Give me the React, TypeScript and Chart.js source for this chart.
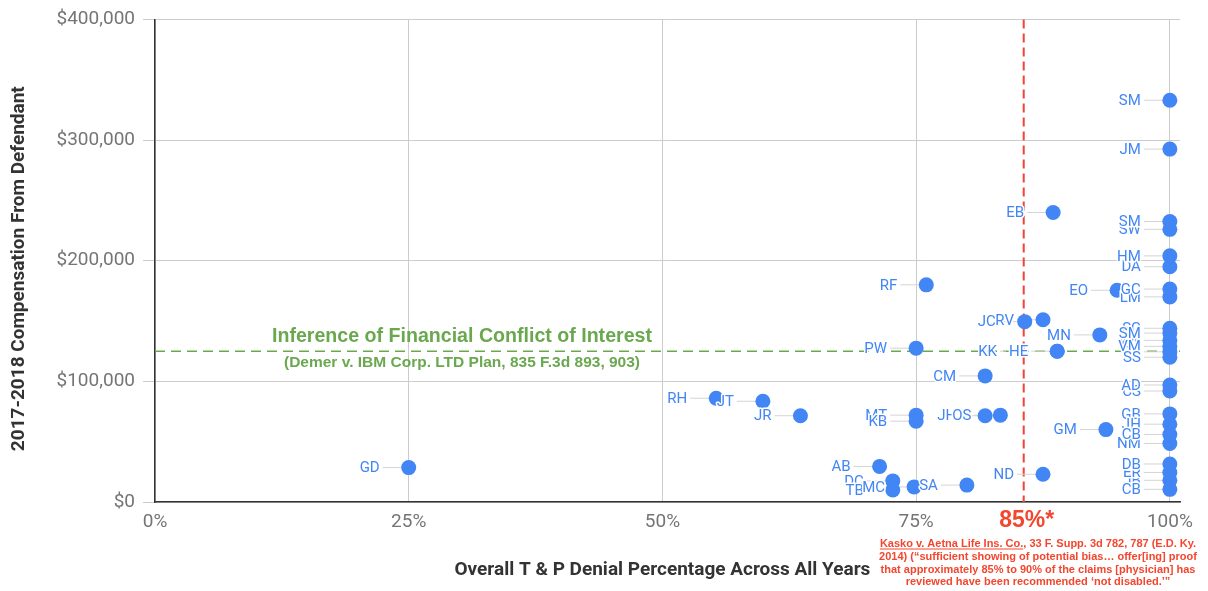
import React, { useEffect, useRef } from "react";
import { Chart, registerables } from "chart.js";

Chart.register(...registerables);

// ---- data ----
const LABELS = [
  "GD", "RH", "JT", "JR", "AB", "DC", "TB", "MC", "SA", "MT", "KB", "PW", "RF", "CM", "JH", "OS",
  "JC", "RV", "HE", "KK", "EB", "ND", "MN", "GM", "EO",
  "SM", "JM", "SW", "SM", "DA", "HM", "LM", "GC",
  "SC", "VW", "SB", "SM", "VM", "SS",
  "CS", "AD", "GB", "NM", "JH", "CB", "JB", "CB", "ER", "DB",
];
const DENIAL_PCT = [
  25, 55.3, 59.9, 63.6, 71.4, 72.7, 72.7, 74.8, 80.0, 75, 75, 75, 76, 81.8, 81.8, 83.3,
  85.7, 87.5, 88.9, 88.9, 88.5, 87.5, 93.1, 93.7, 94.8,
  100, 100, 100, 100, 100, 100, 100, 100,
  100, 100, 100, 100, 100, 100,
  100, 100, 100, 100, 100, 100, 100, 100, 100, 100,
];
const COMPENSATION = [
  28500, 86000, 83500, 71500, 29500, 17500, 10000, 12500, 14000, 72000, 67000, 127500, 180000, 104500, 71500, 72000,
  149500, 151000, 125000, 125000, 240000, 23000, 138500, 60000, 175500,
  333000, 292500, 226000, 232500, 195000, 204000, 170000, 176500,
  144000, 134000, 124500, 140000, 129000, 120000,
  92000, 97000, 73000, 48500, 64500, 56000, 18000, 10500, 24500, 31500,
];
const X_TICKS = [0, 25, 50, 75, 100];
const Y_MAX = 400000;
const Y_STEP = 100000;
const CONFLICT_THRESHOLD = 125000;
const DENIAL_CUTOFF_LINE = 85.6;
const CUTOFF_LABEL = "85%*";
const CONFLICT_TITLE = "Inference of Financial Conflict of Interest";
const CONFLICT_CITE = "(Demer v. IBM Corp. LTD Plan, 835 F.3d 893, 903)";
const FOOTNOTE_CASE = "Kasko v. Aetna Life Ins. Co.";
const FOOTNOTE_LINES = [
  FOOTNOTE_CASE + ", 33 F. Supp. 3d 782, 787 (E.D. Ky.",
  "2014) (\u201csufficient showing of potential bias\u2026 offer[ing] proof",
  "that approximately 85% to 90% of the claims [physician] has",
  "reviewed have been recommended \u2018not disabled.\u2019\u201d",
];
const X_TITLE = "Overall T & P Denial Percentage Across All Years";
const Y_TITLE = "2017-2018 Compensation From Defendant";

// ---- styles ----
const BLUE = "#4285f4";
const GREEN = "#6aa84f";
const RED = "#f44336";
const RED_TEXT = "#f4462f";
const GRID = "#cccccc";
const AXIS = "#333333";
const TICK_COLOR = "#757575";
const LABEL_FONT = "15px Roboto";

function layoutLabels(chart: any) {
  const ctx = chart.ctx;
  const meta = chart.getDatasetMeta(0);
  ctx.save();
  ctx.font = LABEL_FONT;
  const placed: any[] = [];
  meta.data.forEach((el: any, i: number) => {
    const text = LABELS[i];
    const w = ctx.measureText(text).width;
    let right = el.x - 29;
    let stop = el.x;
    for (const p of placed) {
      if (Math.abs(p.px - el.x) < 2 && Math.abs(p.py - el.y) < 2) {
        right = Math.min(right, p.left - 12);
        stop = Math.min(stop, p.left - 3);
      }
    }
    placed.push({ text, right, left: right - w, px: el.x, py: el.y, stop });
  });
  ctx.restore();
  return placed;
}

const overlayPlugin = {
  id: "overlay",
  beforeDatasetsDraw(chart: any) {
    const { ctx, chartArea: a, scales } = chart;
    const x = scales.x;
    const y = scales.y;
    ctx.save();
    // green threshold line
    const gy = y.getPixelForValue(CONFLICT_THRESHOLD);
    ctx.strokeStyle = GREEN;
    ctx.lineWidth = 1.5;
    ctx.setLineDash([10, 6]);
    ctx.beginPath();
    ctx.moveTo(a.left, gy);
    ctx.lineTo(a.right, gy);
    ctx.stroke();
    // red cutoff line
    const rx = x.getPixelForValue(DENIAL_CUTOFF_LINE);
    ctx.strokeStyle = RED;
    ctx.lineWidth = 2;
    ctx.setLineDash([9, 5]);
    ctx.beginPath();
    ctx.moveTo(rx, a.top);
    ctx.lineTo(rx, a.bottom);
    ctx.stroke();
    ctx.setLineDash([]);
    // green annotation text
    const cx = x.getPixelForValue(30.25);
    ctx.fillStyle = GREEN;
    ctx.textAlign = "center";
    ctx.textBaseline = "middle";
    ctx.font = "bold 19.6px 'Liberation Sans', Arial";
    ctx.fillText(CONFLICT_TITLE, cx, gy - 15);
    ctx.font = "bold 15.5px 'Liberation Sans', Arial";
    ctx.fillText(CONFLICT_CITE, cx, gy + 12);
    // connectors
    const labels = layoutLabels(chart);
    ctx.strokeStyle = "#d4d4d4";
    ctx.lineWidth = 1;
    for (const l of labels) {
      ctx.beginPath();
      ctx.moveTo(l.right + 3, l.py);
      ctx.lineTo(l.stop, l.py);
      ctx.stroke();
    }
    ctx.restore();
  },
  afterDatasetsDraw(chart: any) {
    const ctx = chart.ctx;
    const labels = layoutLabels(chart);
    ctx.save();
    ctx.font = LABEL_FONT;
    ctx.textAlign = "right";
    ctx.textBaseline = "middle";
    ctx.lineJoin = "round";
    for (const l of labels) {
      ctx.strokeStyle = "#ffffff";
      ctx.lineWidth = 3;
      ctx.strokeText(l.text, l.right, l.py + 1);
      ctx.fillStyle = BLUE;
      ctx.fillText(l.text, l.right, l.py + 1);
    }
    ctx.restore();
  },
  afterDraw(chart: any) {
    const { ctx, chartArea: a, scales } = chart;
    const x = scales.x;
    ctx.save();
    // axis titles
    ctx.fillStyle = AXIS;
    ctx.textAlign = "center";
    ctx.textBaseline = "middle";
    ctx.font = "bold 19px Roboto";
    ctx.fillText(X_TITLE, x.getPixelForValue(50), 570);
    ctx.save();
    ctx.translate(19, (a.top + a.bottom) / 2 + 8);
    ctx.rotate(-Math.PI / 2);
    ctx.fillText(Y_TITLE, 0, 0);
    ctx.restore();
    // cutoff label
    ctx.fillStyle = RED_TEXT;
    ctx.font = "bold 23px 'Liberation Sans', Arial";
    ctx.fillText(CUTOFF_LABEL, x.getPixelForValue(DENIAL_CUTOFF_LINE) + 3, 521);
    // footnote
    ctx.font = "bold 11px 'Liberation Sans', Arial";
    const fx = 1038;
    FOOTNOTE_LINES.forEach((line, i) => {
      const fy = 544 + i * 12.8;
      ctx.fillText(line, fx, fy);
      if (i === 0) {
        const w = ctx.measureText(line).width;
        const cw = ctx.measureText(FOOTNOTE_CASE).width;
        const left = fx - w / 2;
        ctx.strokeStyle = RED_TEXT;
        ctx.lineWidth = 1;
        ctx.beginPath();
        ctx.moveTo(left, fy + 5);
        ctx.lineTo(left + cw, fy + 5);
        ctx.stroke();
      }
    });
    ctx.restore();
  },
};

export default function App() {
  const canvasRef = useRef<HTMLCanvasElement | null>(null);

  useEffect(() => {
    if (!canvasRef.current) return;
    const data = DENIAL_PCT.map((v, i) => ({ x: v, y: COMPENSATION[i] }));
    const chart = new Chart(canvasRef.current, {
      type: "scatter",
      data: {
        labels: LABELS,
        datasets: [
          {
            data,
            backgroundColor: BLUE,
            borderWidth: 0,
            pointRadius: 7.5,
            pointHoverRadius: 7.5,
            clip: false,
          } as any,
        ],
      },
      options: {
        animation: false,
        responsive: false,
        events: [],
        layout: { padding: { top: 18, right: 28, left: 0, bottom: 0 } },
        plugins: { legend: { display: false }, tooltip: { enabled: false } },
        scales: {
          x: {
            type: "linear",
            min: 0,
            max: 101,
            afterBuildTicks: (scale: any) => {
              scale.ticks = X_TICKS.map((v) => ({ value: v }));
            },
            afterFit: (scale: any) => {
              scale.height = 89;
            },
            ticks: {
              padding: 9,
              color: TICK_COLOR,
              font: { family: "Roboto", size: 19 },
              callback: (v: any) => v + "%",
            },
            grid: { color: GRID, lineWidth: 1, drawTicks: false },
            border: { color: AXIS, width: 1.5 },
          },
          y: {
            type: "linear",
            min: 0,
            max: Y_MAX,
            afterFit: (scale: any) => {
              scale.width = 155;
            },
            ticks: {
              stepSize: Y_STEP,
              padding: 8,
              color: TICK_COLOR,
              font: { family: "Roboto", size: 19 },
              callback: (v: any) => "$" + Number(v).toLocaleString("en-US"),
            },
            grid: { color: GRID, lineWidth: 1, drawTicks: true, tickLength: 12 },
            border: { color: AXIS, width: 1.5 },
          },
        },
      },
      plugins: [overlayPlugin],
    });
    return () => chart.destroy();
  }, []);

  return (
    <div style={{ position: "absolute", left: 0, top: 0, width: 1208, height: 591, background: "#fff" }}>
      <canvas ref={canvasRef} width={1208} height={591} style={{ display: "block" }} />
    </div>
  );
}
